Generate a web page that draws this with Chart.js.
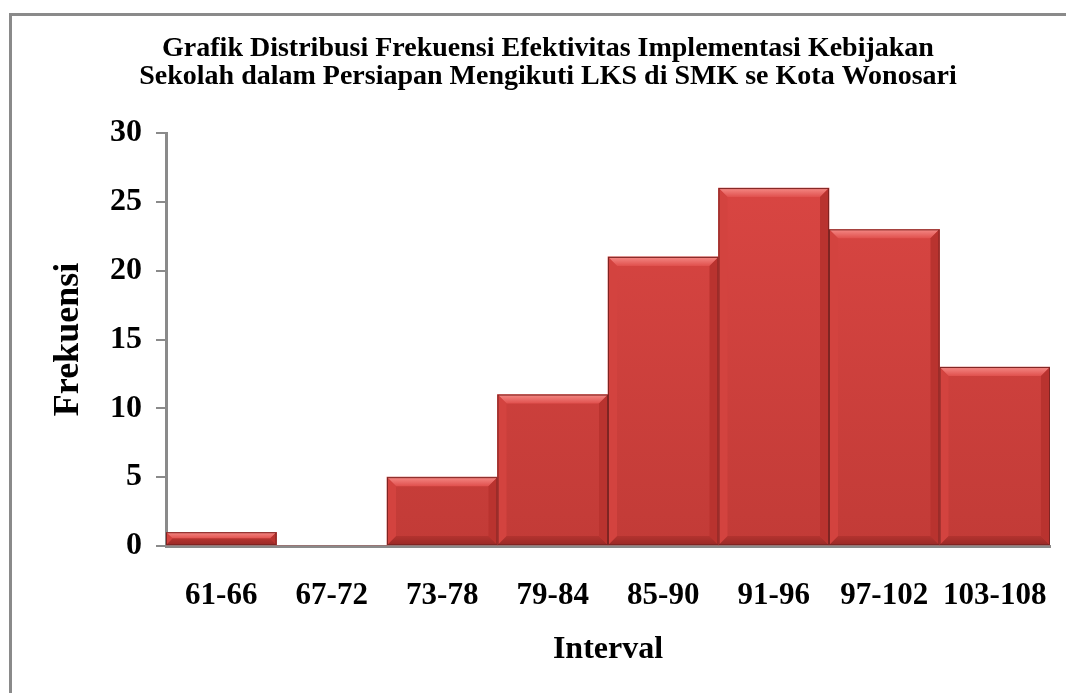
<!DOCTYPE html>
<html>
<head>
<meta charset="utf-8">
<script src="https://cdn.jsdelivr.net/npm/chart.js@4"></script>
<style>
  html, body { margin: 0; padding: 0; background: #fff; }
  #wrap { position: relative; width: 1066px; height: 693px; }
  #frame { position: absolute; left: 9px; top: 13px; right: -5px; bottom: -5px;
           border-top: 3px solid #8a8a8a; border-left: 3px solid #8a8a8a; }
  canvas { position: absolute; left: 0; top: 0; }
</style>
</head>
<body>
<div id="wrap">
  <div id="frame"></div>
  <canvas id="histChart" width="1066" height="693"></canvas>
</div>
<script>
// data
const intervals = ["61-66", "67-72", "73-78", "79-84", "85-90", "91-96", "97-102", "103-108"];
const frekuensi = [1, 0, 5, 11, 21, 26, 23, 13];
const titleLines = [
  "Grafik Distribusi Frekuensi Efektivitas Implementasi Kebijakan",
  "Sekolah dalam Persiapan Mengikuti LKS di SMK se Kota Wonosari"
];

const serif = "'Liberation Serif', 'Times New Roman', serif";

// bevel look of the bars, drawn on top of each bar element
const bevelPlugin = {
  id: "bevel",
  afterDatasetsDraw(chart) {
    const ctx = chart.ctx;
    const meta = chart.getDatasetMeta(0);
    meta.data.forEach((bar) => {
      const p = bar.getProps(["x", "y", "base", "width"], true);
      const l = p.x - p.width / 2, r = p.x + p.width / 2;
      const t = p.y, b = p.base;
      const h = b - t;
      if (h < 1) return;
      const bv = Math.min(9, h / 2);
      ctx.save();
      // top band
      let g = ctx.createLinearGradient(0, t, 0, t + bv);
      g.addColorStop(0, "#f58a86");
      g.addColorStop(1, "#e0504d");
      ctx.fillStyle = g;
      ctx.beginPath();
      ctx.moveTo(l, t); ctx.lineTo(r, t); ctx.lineTo(r - bv, t + bv); ctx.lineTo(l + bv, t + bv);
      ctx.closePath(); ctx.fill();
      // bottom band
      g = ctx.createLinearGradient(0, b - bv, 0, b);
      g.addColorStop(0, "#b3332f");
      g.addColorStop(1, "#9a2a27");
      ctx.fillStyle = g;
      ctx.beginPath();
      ctx.moveTo(l, b); ctx.lineTo(r, b); ctx.lineTo(r - bv, b - bv); ctx.lineTo(l + bv, b - bv);
      ctx.closePath(); ctx.fill();
      // left band
      ctx.fillStyle = "#d3433f";
      ctx.beginPath();
      ctx.moveTo(l, t); ctx.lineTo(l + bv, t + bv); ctx.lineTo(l + bv, b - bv); ctx.lineTo(l, b);
      ctx.closePath(); ctx.fill();
      // right band
      ctx.fillStyle = "#b9332f";
      ctx.beginPath();
      ctx.moveTo(r, t); ctx.lineTo(r - bv, t + bv); ctx.lineTo(r - bv, b - bv); ctx.lineTo(r, b);
      ctx.closePath(); ctx.fill();
      // dark edge
      ctx.strokeStyle = "#7e2422";
      ctx.lineWidth = 1;
      ctx.strokeRect(l + 0.5, t + 0.5, p.width - 1, h - 1);
      ctx.restore();
    });
  }
};

const ctx = document.getElementById("histChart").getContext("2d");
const fillGrad = ctx.createLinearGradient(0, 130, 0, 546);
fillGrad.addColorStop(0, "#dc4744");
fillGrad.addColorStop(1, "#c23b37");

new Chart(ctx, {
  type: "bar",
  data: {
    labels: intervals,
    datasets: [{
      label: "Frekuensi",
      data: frekuensi,
      backgroundColor: fillGrad,
      borderWidth: 0,
      barPercentage: 1,
      categoryPercentage: 1
    }]
  },
  plugins: [bevelPlugin],
  options: {
    responsive: false,
    animation: false,
    layout: { padding: { left: 46, right: 16, top: 35, bottom: 0 } },
    plugins: {
      legend: { display: false },
      tooltip: { enabled: false },
      title: {
        display: true,
        text: titleLines,
        color: "#000",
        font: { family: serif, size: 28, weight: "bold", lineHeight: 1.0 },
        padding: { top: 0, bottom: 42 }
      }
    },
    scales: {
      y: {
        min: 0,
        max: 30,
        ticks: {
          stepSize: 5,
          color: "#000",
          padding: 14,
          font: { family: serif, size: 32, weight: "bold" }
        },
        grid: { drawOnChartArea: false, drawTicks: true, tickLength: 10, color: "#8a8a8a", lineWidth: 2 },
        border: { color: "#8a8a8a", width: 3 },
        title: {
          display: true,
          text: "Frekuensi",
          color: "#000",
          padding: { top: 1, bottom: 0 },
          font: { family: serif, size: 36, weight: "bold" }
        },
        afterFit(axis) { axis.width = 120; }
      },
      x: {
        ticks: {
          color: "#000",
          padding: 23,
          font: { family: serif, size: 31, weight: "bold" }
        },
        grid: { display: false },
        border: { display: true, color: "#8a8a8a", width: 3 },
        title: {
          display: true,
          text: "Interval",
          color: "#000",
          padding: { top: 10, bottom: 24 },
          font: { family: serif, size: 32, weight: "bold" }
        },
        afterFit(axis) {
          axis.height = 147;
          axis.paddingLeft = 0;
          axis.paddingRight = 0;
        }
      }
    }
  }
});
</script>
</body>
</html>
